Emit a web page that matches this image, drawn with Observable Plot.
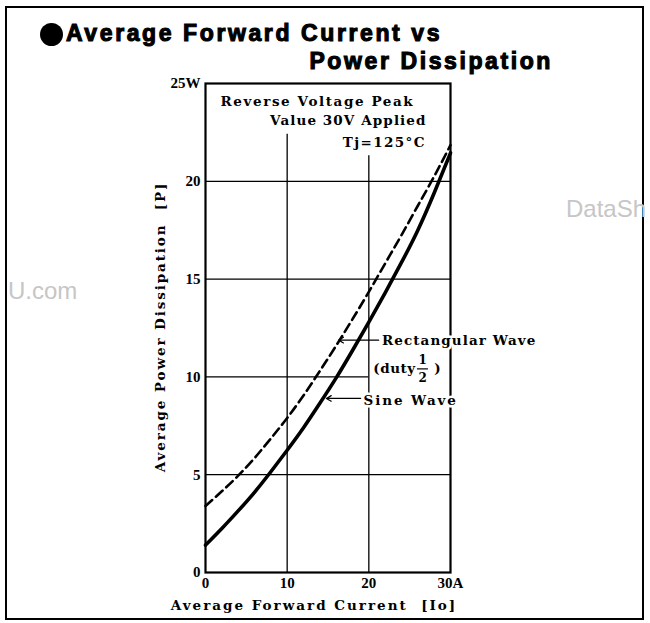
<!DOCTYPE html>
<html><head><meta charset="utf-8">
<script src="https://cdn.jsdelivr.net/npm/d3@7"></script>
<script src="https://cdn.jsdelivr.net/npm/@observablehq/plot@0.6"></script>
<style>
body{margin:0;background:#fff;}
#wrap{position:relative;width:650px;height:623px;overflow:hidden;background:#fff;}
#chart{position:absolute;left:0;top:0;}
#border{position:absolute;left:5px;top:6px;width:639px;height:614px;border:2px solid #000;box-sizing:border-box;}
.title{position:absolute;font-family:"Liberation Sans",Arial,sans-serif;font-weight:bold;font-size:23px;letter-spacing:2.6px;-webkit-text-stroke:1.1px #000;white-space:nowrap;line-height:23px;color:#000;}
#bullet{position:absolute;left:40px;top:23px;width:23px;height:23px;border-radius:50%;background:#000;}
.wm{position:absolute;font-family:"Liberation Sans",Arial,sans-serif;font-size:24px;line-height:24px;color:#c6c6c6;white-space:nowrap;}
svg text{paint-order:stroke;}
g[aria-label="y-axis tick label"] text, g[aria-label="x-axis tick label"] text{font-family:"Liberation Serif",serif;font-weight:bold;font-size:15px;}
</style></head>
<body>
<div id="wrap">
  <div id="chart"></div>
  <div id="border"></div>
  <div id="bullet"></div>
  <div class="title" id="t1" style="left:66px;top:22px;"></div>
  <div class="title" id="t2" style="right:97px;top:50px;"></div>
  <div class="wm" style="left:566px;top:197px;">DataSh</div>
  <div class="wm" style="left:8px;top:279px;">U.com</div>
</div>
<script>
// ---- data ----
const titleLines = ["Average Forward Current vs", "Power Dissipation"];
const current = [0, 2, 4, 6, 8, 10, 12, 14, 16, 18, 20, 22, 24, 26, 28, 30];
const sineWaveP = [1.4, 2.25, 3.15, 4.1, 5.15, 6.25, 7.4, 8.65, 9.95, 11.35, 12.8, 14.3, 15.85, 17.5, 19.4, 21.45];
const rectWaveP = [3.4, 4.15, 4.95, 5.85, 6.85, 7.9, 9.05, 10.3, 11.6, 12.95, 14.35, 15.8, 17.25, 18.75, 20.25, 21.85];
const xTicks = [0, 10, 20, 30];
const xTickLabels = ["0", "10", "20", "30A"];
const yTicks = [0, 5, 10, 15, 20, 25];
const yTickLabels = ["0", "5", "10", "15", "20", "25W"];
const gridXValues = [10, 20];
const gridYValues = [5, 10, 15, 20];
const noteLines = ["Reverse Voltage Peak", "Value 30V Applied", "Tj=125°C"];
const seriesLabels = ["Rectangular Wave", "Sine Wave"];
const dutyParts = ["(duty", "1", "2", ")"];
const xTitle = "Average Forward Current  [Io]";
const yTitle = "Average Power Dissipation  [P]";

document.getElementById("t1").textContent = titleLines[0];
document.getElementById("t2").textContent = titleLines[1];

const sine = current.map((I, i) => ({I, P: sineWaveP[i]}));
const rect = current.map((I, i) => ({I, P: rectWaveP[i]}));

const noteFont = {fontFamily: "DejaVu Serif", fontWeight: "bold", fontSize: 13.5, fill: "#000", stroke: "#fff", strokeWidth: 5};

const chart = Plot.plot({
  width: 650, height: 623,
  marginLeft: 205, marginRight: 200, marginTop: 83, marginBottom: 51,
  x: {domain: [0, 30]},
  y: {domain: [0, 25]},
  style: {fontFamily: "DejaVu Serif", fontSize: "14px", color: "#000", background: "transparent"},
  marks: [
    Plot.ruleY(gridYValues, {x1: 0, x2: d => d === 10 ? 20 : 30, stroke: "#000", strokeWidth: 1.3}),
    Plot.ruleX(gridXValues, {y1: 0, y2: d => d === 10 ? 22.4 : 21.3, stroke: "#000", strokeWidth: 1.3}),
    Plot.frame({stroke: "#000", strokeWidth: 2.2}),
    Plot.line(rect, {x: "I", y: "P", curve: "natural", stroke: "#000", strokeWidth: 2.6, strokeDasharray: "9,5"}),
    Plot.line(sine, {x: "I", y: "P", curve: "natural", stroke: "#000", strokeWidth: 3.6}),
    Plot.axisX(xTicks, {tickSize: 0, tickPadding: 5, tickFormat: d => xTickLabels[xTicks.indexOf(d)], label: null}),
    Plot.axisY(yTicks, {tickSize: 0, tickPadding: 5, tickFormat: d => yTickLabels[yTicks.indexOf(d)], label: null}),
    // annotation block
    Plot.text([noteLines[0]], {x: 1.84, y: 24.07, text: d => d, textAnchor: "start", ...noteFont}),
    Plot.text([noteLines[1]], {x: 27.07, y: 23.11, text: d => d, textAnchor: "end", ...noteFont}),
    Plot.text([noteLines[2]], {x: 26.99, y: 22.0, text: d => d, textAnchor: "end", ...noteFont}),
    // series labels
    Plot.arrow([0], {x1: 21.2, y1: 11.88, x2: 16.3, y2: 11.88, stroke: "#000", strokeWidth: 1.2, headLength: 7}),
    Plot.arrow([0], {x1: 19.0, y1: 8.9, x2: 14.8, y2: 8.9, stroke: "#000", strokeWidth: 1.2, headLength: 7}),
    Plot.text([seriesLabels[0]], {x: 21.6, y: 11.86, text: d => d, textAnchor: "start", ...noteFont}),
    Plot.text([seriesLabels[1]], {x: 19.35, y: 8.79, text: d => d, textAnchor: "start", ...noteFont}),
    Plot.text([dutyParts[0]], {x: 20.55, y: 10.43, text: d => d, textAnchor: "start", ...noteFont}),
    Plot.text([dutyParts[1]], {x: 26.6, y: 10.86, text: d => d, ...noteFont, fontSize: 12, strokeWidth: 0}),
    Plot.text([dutyParts[2]], {x: 26.6, y: 9.95, text: d => d, ...noteFont, fontSize: 12, strokeWidth: 0}),
    Plot.ruleY([10.41], {x1: 25.95, x2: 27.3, stroke: "#000", strokeWidth: 1.2}),
    Plot.text([dutyParts[3]], {x: 28.4, y: 10.43, text: d => d, ...noteFont, strokeWidth: 0}),
    // axis titles
    Plot.text([xTitle], {frameAnchor: "bottom", dx: -14, dy: 37, text: d => d, fontFamily: "DejaVu Serif", fontWeight: "bold", fontSize: 13.5, fill: "#000"}),
    Plot.text([yTitle], {frameAnchor: "left", textAnchor: "middle", dx: -45, dy: -1, rotate: -90, text: d => d, fontFamily: "DejaVu Serif", fontWeight: "bold", fontSize: 13.5, fill: "#000"})
  ]
});
document.getElementById("chart").appendChild(chart);

// letter spacing to match the widely tracked print lettering
const spacing = new Map([
  [noteLines[0], 1.6], [noteLines[1], 1.1], [noteLines[2], 1.4],
  [seriesLabels[0], 1.1], [seriesLabels[1], 1.9], [dutyParts[0], 0.5],
  [xTitle, 2], [yTitle, 1.9]
]);
d3.select(chart).selectAll("text").each(function() {
  const s = spacing.get(this.textContent);
  if (s != null) this.style.letterSpacing = s + "px";
});
</script>
</body></html>
